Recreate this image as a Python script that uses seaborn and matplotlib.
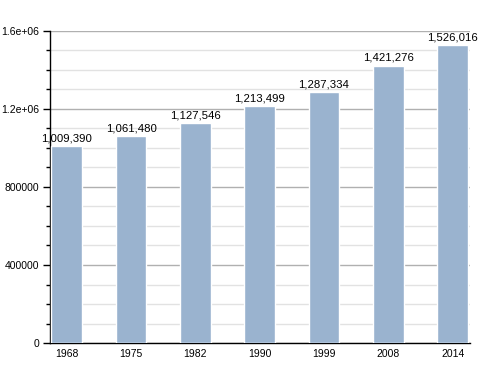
import matplotlib
matplotlib.use("Agg")
import matplotlib.pyplot as plt
import seaborn as sns
import pandas as pd
from matplotlib.ticker import MultipleLocator, FixedLocator, FixedFormatter

years = ["1968", "1975", "1982", "1990", "1999", "2008", "2014"]
population = [1009390, 1061480, 1127546, 1213499, 1287334, 1421276, 1526016]
ytick_values = [0, 400000, 800000, 1200000, 1600000]
ytick_labels = ["0", "400000", "800000", "1.2e+06", "1.6e+06"]

sns.set_style("white")
plt.rcParams['font.family'] = ['Liberation Sans', 'DejaVu Sans']
plt.rcParams['text.color'] = 'black'
plt.rcParams['xtick.color'] = 'black'
plt.rcParams['ytick.color'] = 'black'
plt.rcParams['axes.labelcolor'] = 'black'

df = pd.DataFrame({"year": years, "pop": population})

fig = plt.figure(figsize=(5, 3.73), dpi=100)
ax = fig.add_axes([0.1, 0.0804, 0.84, 0.8366])

sns.barplot(data=df, x="year", y="pop", color="#9ab3cf", saturation=1,
            width=0.48, ax=ax, zorder=3)

ax.set_ylim(0, 1600000)
ax.set_xlim(-0.26, 6.27)
ax.yaxis.set_major_locator(FixedLocator(ytick_values))
ax.yaxis.set_major_formatter(FixedFormatter(ytick_labels))
ax.yaxis.set_minor_locator(MultipleLocator(100000))
ax.grid(axis="y", which="major", color="#b0b0b0", linewidth=1, zorder=0)
ax.grid(axis="y", which="minor", color="#e2e2e2", linewidth=1, zorder=0)
ax.set_axisbelow(True)

for s in ["top", "right"]:
    ax.spines[s].set_visible(False)
for s in ["left", "bottom"]:
    ax.spines[s].set_color("black")
    ax.spines[s].set_linewidth(1)

ax.tick_params(axis="y", which="major", length=5, width=1, color="black",
               labelsize=7.5, left=True, pad=3, labelcolor="black")
ax.tick_params(axis="y", which="minor", length=3, width=1, color="black", left=True)
ax.tick_params(axis="x", length=0, labelsize=7.5, pad=4, labelcolor="black")
ax.set_xlabel("")
ax.set_ylabel("")

for i, v in enumerate(population):
    ax.text(i, v + 15000, f"{v:,}", ha="center", va="bottom", fontsize=8.2,
            color="black")

fig.savefig("out.png", dpi=100)
